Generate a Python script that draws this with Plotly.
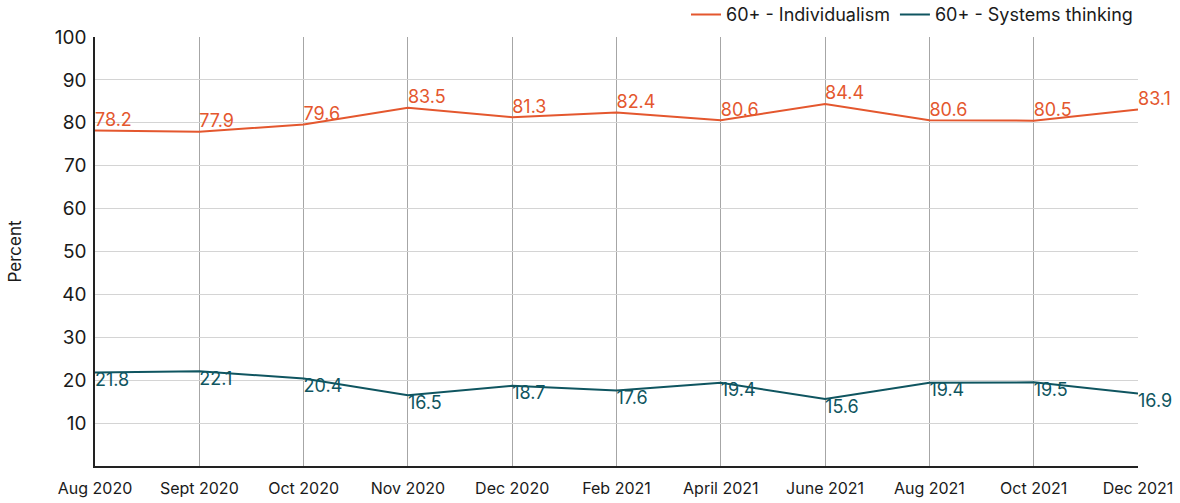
import plotly.graph_objects as go

months = ["Aug 2020", "Sept 2020", "Oct 2020", "Nov 2020", "Dec 2020", "Feb 2021",
          "April 2021", "June 2021", "Aug 2021", "Oct 2021", "Dec 2021"]
individualism = [78.2, 77.9, 79.6, 83.5, 81.3, 82.4, 80.6, 84.4, 80.6, 80.5, 83.1]
systems = [21.8, 22.1, 20.4, 16.5, 18.7, 17.6, 19.4, 15.6, 19.4, 19.5, 16.9]
y_ticks = [10, 20, 30, 40, 50, 60, 70, 80, 90, 100]

ORANGE = "#E4572E"
TEAL = "#0F5560"
FONT = "Inter, Roboto, sans-serif"

xs = list(range(len(months)))

fig = go.Figure()
fig.add_trace(go.Scatter(
    x=xs, y=individualism, name="60+ - Individualism", mode="lines+text",
    line=dict(color=ORANGE, width=2),
    text=[f"{v:.1f}" for v in individualism], textposition="top right",
    textfont=dict(color=ORANGE, size=18, family=FONT), cliponaxis=False,
))
fig.add_trace(go.Scatter(
    x=xs, y=systems, name="60+ - Systems thinking", mode="lines+text",
    line=dict(color=TEAL, width=2),
    text=[f"{v:.1f}" for v in systems], textposition="bottom right",
    textfont=dict(color=TEAL, size=18, family=FONT), cliponaxis=False,
))

fig.update_layout(
    width=1180, height=503,
    margin=dict(l=95, r=42, t=37, b=37, autoexpand=False),
    paper_bgcolor="white", plot_bgcolor="white",
    font=dict(family=FONT, color="#1a1a1a"),
    showlegend=True,
    legend=dict(orientation="h", x=1.0, xanchor="right", y=1.095, yanchor="top",
                font=dict(size=18, family=FONT, color="#1a1a1a"),
                bgcolor="rgba(0,0,0,0)"),
    xaxis=dict(
        range=[0, len(months) - 1], tickmode="array", tickvals=xs, ticktext=months,
        showgrid=True, gridcolor="#a6a6a6", gridwidth=1,
        showline=True, linecolor="#222", linewidth=1.5,
        ticks="", tickfont=dict(size=16, family=FONT, color="#1a1a1a"),
        ticklabelstandoff=7,
        zeroline=False, automargin=False,
    ),
    yaxis=dict(
        range=[0, 100], tickmode="array", tickvals=y_ticks,
        showgrid=True, gridcolor="#d4d4d4", gridwidth=1,
        showline=True, linecolor="#222", linewidth=1.5,
        ticks="", tickfont=dict(size=19, family=FONT, color="#1a1a1a"),
        ticklabelstandoff=3,
        title=dict(text="Percent", font=dict(size=17, family=FONT, color="#1a1a1a"), standoff=29),
        zeroline=False, automargin=False,
    ),
)

fig.write_html("out.html", config={"displayModeBar": False},
               post_script="document.body.style.margin='0';")
